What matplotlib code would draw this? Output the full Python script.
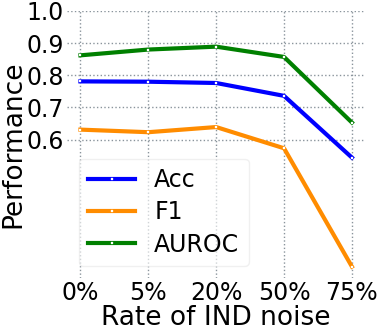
import matplotlib
matplotlib.use('Agg')
import matplotlib.pyplot as plt

noise_rates = ['0%', '5%', '20%', '50%', '75%']
acc = [0.781, 0.780, 0.776, 0.736, 0.544]
f1 = [0.631, 0.623, 0.639, 0.573, 0.205]
auroc = [0.862, 0.880, 0.889, 0.857, 0.653]
y_ticks = [0.6, 0.7, 0.8, 0.9, 1.0]


def plot(ax, values, color, label):
    x = range(len(noise_rates))
    ax.plot(x, values, color=color, label=label, linewidth=3,
            marker='s', markersize=2, markerfacecolor='white',
            markeredgecolor='white', markeredgewidth=0.2)


def main():
    fig = plt.figure(figsize=(3.82, 3.32), dpi=100)
    ax = fig.add_axes([0.175, 0.163, 0.78, 0.804])

    plot(ax, acc, 'blue', 'Acc')
    plot(ax, f1, 'darkorange', 'F1')
    plot(ax, auroc, 'green', 'AUROC')

    ax.set_xticks(range(len(noise_rates)))
    ax.set_xticklabels(noise_rates)
    ax.set_yticks(y_ticks)
    ax.set_xlim(-0.2, 4.19)
    ax.set_ylim(0.17, 1.0)
    ax.grid(True, linestyle=':', color='#8a949c', linewidth=1)
    for s in ax.spines.values():
        s.set_visible(False)
    ax.tick_params(length=0, labelsize=17, pad=2)
    ax.set_xlabel('Rate of IND noise', fontsize=19, labelpad=0)
    ax.set_ylabel('Performance', fontsize=19, labelpad=0)
    ax.legend(loc='lower left', fontsize=17, framealpha=0.6,
              labelspacing=0.35, borderaxespad=0.5, edgecolor='#e6e6e6')

    fig.savefig('out.png', dpi=100)


if __name__ == '__main__':
    main()
